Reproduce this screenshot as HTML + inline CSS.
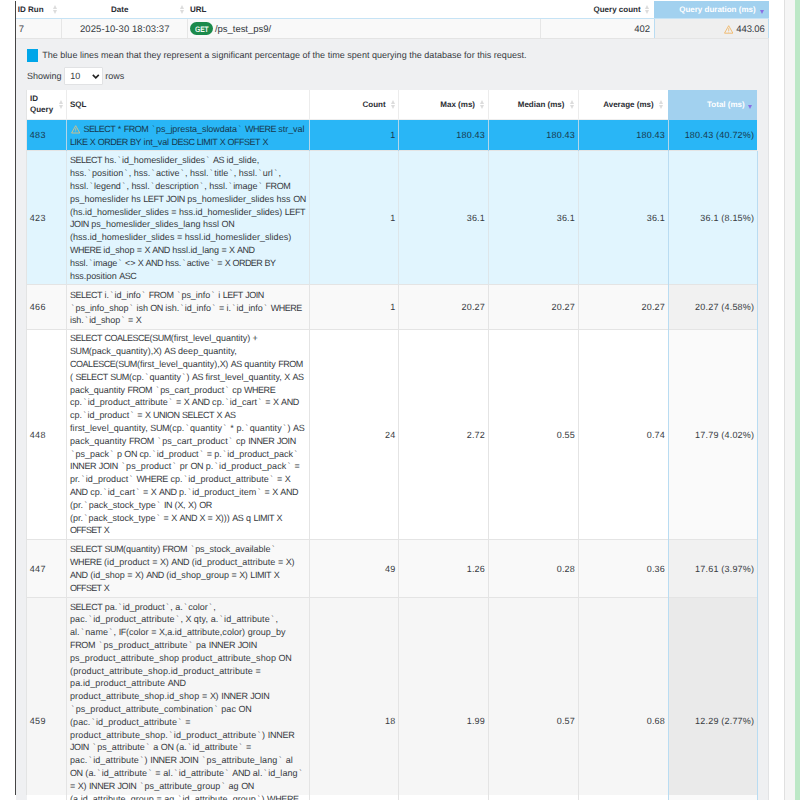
<!DOCTYPE html>
<html><head><meta charset="utf-8"><style>
*{margin:0;padding:0;box-sizing:border-box}
html,body{width:800px;height:800px;overflow:hidden;background:#fff}
body{position:relative;font-family:"Liberation Sans",sans-serif;font-size:9px;color:#363a41;text-rendering:geometricPrecision}
.a{position:absolute}
.t{position:absolute;white-space:pre;line-height:12.8px;font-size:9px}
.h{position:absolute;white-space:pre;font-weight:bold;font-size:8px;line-height:11px;color:#2a2d33}
.sort{position:absolute;width:5px;height:10px}
.sort:before,.sort:after{content:"";position:absolute;left:0;border-left:2.5px solid transparent;border-right:2.5px solid transparent}
.sort:before{top:0;border-bottom:4.2px solid #dcdcdc}
.sort:after{top:5.5px;border-top:4.2px solid #dcdcdc}
.desc{position:absolute;width:0;height:0;border-left:2.5px solid transparent;border-right:2.5px solid transparent;border-top:4.1px solid #8a6fe4}
.vb{position:absolute;width:1px;background:#e6e6e6}
i{font-style:normal}
.bt{padding:0 1.3px}
.u{letter-spacing:calc(var(--ls) - 0.45px)}
</style></head>
<body>
<div class="a" style="left:784px;top:0px;width:1px;height:800px;background:#e0e0e0;"></div>
<div class="a" style="left:785px;top:0px;width:10px;height:800px;background:#f5f5f5;"></div>
<div class="a" style="left:795px;top:0px;width:5px;height:800px;background:#bde8c7;"></div>
<div class="a" style="left:16px;top:18px;width:753px;height:1px;background:#c6e3f5;"></div>
<div class="a" style="left:654px;top:1px;width:115px;height:17px;background:#a2d1ef;"></div>
<div class="a" style="left:16px;top:19px;width:753px;height:19px;background:#f9f9f9;"></div>
<div class="a" style="left:654px;top:19px;width:115px;height:19px;background:#efefef;"></div>
<div class="a" style="left:654px;top:19px;width:1px;height:19px;background:#b9dcf2;"></div>
<div class="a" style="left:768px;top:19px;width:1px;height:19px;background:#b9dcf2;"></div>
<div class="a" style="left:61px;top:19px;width:1px;height:19px;background:#e6e6e6;"></div>
<div class="a" style="left:187px;top:19px;width:1px;height:19px;background:#e6e6e6;"></div>
<div class="a" style="left:540px;top:19px;width:1px;height:19px;background:#e6e6e6;"></div>
<div class="a" style="left:16px;top:38px;width:753px;height:1px;background:#e4e4e4;"></div>
<div class="a" style="left:16px;top:39px;width:752px;height:761px;background:#eff0f2;"></div>
<div class="a" style="left:768px;top:39px;width:1px;height:761px;background:#e2e3e5;"></div>
<div class="h" style="left:17.75px;top:3.8000000000000007px;">ID Run</div>
<div class="sort" style="left:53.2px;top:4.8px"></div>
<div class="h" style="left:111px;top:3.8000000000000007px;">Date</div>
<div class="sort" style="left:179.8px;top:4.8px"></div>
<div class="h" style="left:190px;top:3.8000000000000007px;">URL</div>
<div class="h" style="right:159.39999999999998px;top:3.8000000000000007px;">Query count</div>
<div class="sort" style="left:645.4px;top:4.8px"></div>
<div class="h" style="right:44.39999999999998px;top:3.8000000000000007px;color:#fff;">Query duration (ms)</div>
<div class="desc" style="left:759.7px;top:10.3px"></div>
<div class="a" style="left:190.3px;top:22.2px;width:22.6px;height:12.9px;border-radius:6.45px;background:#1b8a4b;"></div>
<div class="t" style="left:194.5px;top:23.50px;color:#f4fbf6;font-size:8px;font-weight:bold;letter-spacing:-0.1px;transform:scaleX(0.84);transform-origin:0 0">GET</div>
<svg class="a" style="left:723.75px;top:25px" width="9.4" height="8.8" viewBox="0 0 9.4 8.8"><path d="M4.7 0.7 L8.9 8.2 L0.5 8.2 Z" fill="none" stroke="#f1b561" stroke-width="0.85" stroke-linejoin="round"/><path d="M4.7 3.2 V6" stroke="#f1b561" stroke-width="0.8"/><circle cx="4.7" cy="7" r="0.45" fill="#f1b561"/></svg>
<div class="a" style="left:27px;top:49.3px;width:11px;height:12.4px;background:#00a6e9;"></div>
<div class="a" style="left:64.3px;top:67.3px;width:38.4px;height:18px;background:#fff;border:1px solid #e1e2e4;border-radius:1px"></div>
<svg class="a" style="left:92.2px;top:73.8px" width="7.6" height="5.2" viewBox="0 0 7.6 5.2"><path d="M0.8 0.9 L3.8 3.9 L6.8 0.9" fill="none" stroke="#222" stroke-width="1.6"/></svg>
<div class="a" style="left:27px;top:90px;width:730px;height:29px;background:#fff;"></div>
<div class="a" style="left:27px;top:119px;width:641px;height:1px;background:#eeeeee;"></div>
<div class="a" style="left:668px;top:90px;width:89px;height:30px;background:#a2d1ef;"></div>
<div class="a" style="left:66px;top:90px;width:1px;height:29px;background:#ececec;"></div>
<div class="a" style="left:309px;top:90px;width:1px;height:29px;background:#ececec;"></div>
<div class="a" style="left:398px;top:90px;width:1px;height:29px;background:#ececec;"></div>
<div class="a" style="left:488px;top:90px;width:1px;height:29px;background:#ececec;"></div>
<div class="a" style="left:578px;top:90px;width:1px;height:29px;background:#ececec;"></div>
<div class="h" style="left:30px;top:93.1px;">ID</div>
<div class="h" style="left:30px;top:104.1px;">Query</div>
<div class="sort" style="left:58.8px;top:99.6px"></div>
<div class="h" style="left:70px;top:98.89999999999999px;">SQL</div>
<div class="h" style="right:414.4px;top:98.89999999999999px;">Count</div>
<div class="sort" style="left:390.6px;top:99.6px"></div>
<div class="h" style="right:325px;top:98.89999999999999px;">Max (ms)</div>
<div class="sort" style="left:480.20000000000005px;top:99.6px"></div>
<div class="h" style="right:235.60000000000002px;top:98.89999999999999px;">Median (ms)</div>
<div class="sort" style="left:569.6px;top:99.6px"></div>
<div class="h" style="right:146.39999999999998px;top:98.89999999999999px;">Average (ms)</div>
<div class="sort" style="left:658.6px;top:99.6px"></div>
<div class="h" style="right:55.299999999999955px;top:98.89999999999999px;color:#fff;">Total (ms)</div>
<div class="desc" style="left:748.4px;top:104.8px"></div>
<div class="a" style="left:27px;top:120px;width:730px;height:31px;background:#29b6f6;"></div>
<div class="a" style="left:668px;top:120px;width:89px;height:31px;background:#29b6f6;"></div>
<div class="a" style="left:27px;top:150px;width:730px;height:1px;background:#e4e4e4;"></div>
<div class="a" style="left:66px;top:120px;width:1px;height:31px;background:#b2d6ea;"></div>
<div class="a" style="left:309px;top:120px;width:1px;height:31px;background:#b2d6ea;"></div>
<div class="a" style="left:398px;top:120px;width:1px;height:31px;background:#b2d6ea;"></div>
<div class="a" style="left:488px;top:120px;width:1px;height:31px;background:#b2d6ea;"></div>
<div class="a" style="left:578px;top:120px;width:1px;height:31px;background:#b2d6ea;"></div>
<div class="a" style="left:668px;top:120px;width:1px;height:31px;background:#b2d6ea;"></div>
<svg class="a" style="left:71px;top:125.3px" width="9.4" height="8.6" viewBox="0 0 9.4 8.8"><path d="M4.7 0.7 L8.9 8.2 L0.5 8.2 Z" fill="none" stroke="#e9c27a" stroke-width="0.85" stroke-linejoin="round"/><path d="M4.7 3.2 V6" stroke="#e9c27a" stroke-width="0.8"/><circle cx="4.7" cy="7" r="0.45" fill="#e9c27a"/></svg>
<div class="a" style="left:27px;top:151px;width:730px;height:134px;background:#e1f5fe;"></div>
<div class="a" style="left:668px;top:151px;width:89px;height:134px;background:#e1f5fe;"></div>
<div class="a" style="left:27px;top:284px;width:730px;height:1px;background:#e4e4e4;"></div>
<div class="a" style="left:66px;top:151px;width:1px;height:134px;background:#dde6ea;"></div>
<div class="a" style="left:309px;top:151px;width:1px;height:134px;background:#dde6ea;"></div>
<div class="a" style="left:398px;top:151px;width:1px;height:134px;background:#dde6ea;"></div>
<div class="a" style="left:488px;top:151px;width:1px;height:134px;background:#dde6ea;"></div>
<div class="a" style="left:578px;top:151px;width:1px;height:134px;background:#dde6ea;"></div>
<div class="a" style="left:668px;top:151px;width:1px;height:134px;background:#b9dcf2;"></div>
<div class="a" style="left:757px;top:151px;width:1px;height:134px;background:#b9dcf2;"></div>
<div class="a" style="left:27px;top:285px;width:730px;height:45px;background:#f9f9f9;"></div>
<div class="a" style="left:668px;top:285px;width:89px;height:45px;background:#f1f1f1;"></div>
<div class="a" style="left:27px;top:329px;width:730px;height:1px;background:#e4e4e4;"></div>
<div class="a" style="left:66px;top:285px;width:1px;height:45px;background:#e4e4e4;"></div>
<div class="a" style="left:309px;top:285px;width:1px;height:45px;background:#e4e4e4;"></div>
<div class="a" style="left:398px;top:285px;width:1px;height:45px;background:#e4e4e4;"></div>
<div class="a" style="left:488px;top:285px;width:1px;height:45px;background:#e4e4e4;"></div>
<div class="a" style="left:578px;top:285px;width:1px;height:45px;background:#e4e4e4;"></div>
<div class="a" style="left:668px;top:285px;width:1px;height:45px;background:#b9dcf2;"></div>
<div class="a" style="left:757px;top:285px;width:1px;height:45px;background:#b9dcf2;"></div>
<div class="a" style="left:27px;top:330px;width:730px;height:210px;background:#ffffff;"></div>
<div class="a" style="left:668px;top:330px;width:89px;height:210px;background:#fafafa;"></div>
<div class="a" style="left:27px;top:539px;width:730px;height:1px;background:#e4e4e4;"></div>
<div class="a" style="left:66px;top:330px;width:1px;height:210px;background:#e4e4e4;"></div>
<div class="a" style="left:309px;top:330px;width:1px;height:210px;background:#e4e4e4;"></div>
<div class="a" style="left:398px;top:330px;width:1px;height:210px;background:#e4e4e4;"></div>
<div class="a" style="left:488px;top:330px;width:1px;height:210px;background:#e4e4e4;"></div>
<div class="a" style="left:578px;top:330px;width:1px;height:210px;background:#e4e4e4;"></div>
<div class="a" style="left:668px;top:330px;width:1px;height:210px;background:#b9dcf2;"></div>
<div class="a" style="left:757px;top:330px;width:1px;height:210px;background:#b9dcf2;"></div>
<div class="a" style="left:27px;top:540px;width:730px;height:58px;background:#f9f9f9;"></div>
<div class="a" style="left:668px;top:540px;width:89px;height:58px;background:#f1f1f1;"></div>
<div class="a" style="left:27px;top:597px;width:730px;height:1px;background:#e4e4e4;"></div>
<div class="a" style="left:66px;top:540px;width:1px;height:58px;background:#e4e4e4;"></div>
<div class="a" style="left:309px;top:540px;width:1px;height:58px;background:#e4e4e4;"></div>
<div class="a" style="left:398px;top:540px;width:1px;height:58px;background:#e4e4e4;"></div>
<div class="a" style="left:488px;top:540px;width:1px;height:58px;background:#e4e4e4;"></div>
<div class="a" style="left:578px;top:540px;width:1px;height:58px;background:#e4e4e4;"></div>
<div class="a" style="left:668px;top:540px;width:1px;height:58px;background:#b9dcf2;"></div>
<div class="a" style="left:757px;top:540px;width:1px;height:58px;background:#b9dcf2;"></div>
<div class="a" style="left:27px;top:598px;width:730px;height:197px;background:#f6f6f6;"></div>
<div class="a" style="left:668px;top:598px;width:89px;height:197px;background:#eaeaea;"></div>
<div class="a" style="left:66px;top:598px;width:1px;height:197px;background:#e4e4e4;"></div>
<div class="a" style="left:309px;top:598px;width:1px;height:197px;background:#e4e4e4;"></div>
<div class="a" style="left:398px;top:598px;width:1px;height:197px;background:#e4e4e4;"></div>
<div class="a" style="left:488px;top:598px;width:1px;height:197px;background:#e4e4e4;"></div>
<div class="a" style="left:578px;top:598px;width:1px;height:197px;background:#e4e4e4;"></div>
<div class="a" style="left:668px;top:598px;width:1px;height:197px;background:#b9dcf2;"></div>
<div class="a" style="left:757px;top:598px;width:1px;height:197px;background:#b9dcf2;"></div>
<div class="a" style="left:27px;top:795px;width:730px;height:5px;background:#fff;"></div>
<div class="a" style="left:668px;top:795px;width:89px;height:5px;background:#fafafa;"></div>
<div class="a" style="left:66px;top:795px;width:1px;height:5px;background:#e4e4e4;"></div>
<div class="a" style="left:309px;top:795px;width:1px;height:5px;background:#e4e4e4;"></div>
<div class="a" style="left:398px;top:795px;width:1px;height:5px;background:#e4e4e4;"></div>
<div class="a" style="left:488px;top:795px;width:1px;height:5px;background:#e4e4e4;"></div>
<div class="a" style="left:578px;top:795px;width:1px;height:5px;background:#e4e4e4;"></div>
<div class="a" style="left:668px;top:795px;width:1px;height:5px;background:#b9dcf2;"></div>
<div class="a" style="left:757px;top:795px;width:1px;height:5px;background:#b9dcf2;"></div>
<div class="a" style="left:15px;top:1px;width:1px;height:794px;background:#454545;"></div>
<div class="a" style="left:26px;top:90px;width:1px;height:705px;background:#e3e4e4;"></div>
<div class="t" style="left:18.8px;top:23.60px;font-size:9.5px">7</div>
<div class="t" style="left:80px;top:23.60px;font-size:9.5px;letter-spacing:0.07px;">2025-10-30 18:03:37</div>
<div class="t" style="left:215px;top:23.60px;font-size:9.5px;letter-spacing:-0.04px;">/ps_test_ps9/</div>
<div class="t" style="right:150.20000000000005px;top:23.60px;font-size:9.5px;letter-spacing:-0.13px">402</div>
<div class="t" style="right:35.39999999999998px;top:23.60px;font-size:9.5px;letter-spacing:-0.13px;">443.06</div>
<div class="t" style="left:42.2px;top:49.40px;letter-spacing:0.025px">The blue lines mean that they represent a significant percentage of the time spent querying the database for this request.</div>
<div class="t" style="left:27px;top:69.60px;">Showing</div>
<div class="t" style="left:70.2px;top:69.60px;">10</div>
<div class="t" style="left:105.2px;top:69.60px;">rows</div>
<div class="t" style="left:29.8px;top:129.20px;color:#17384d;letter-spacing:0.3px">483</div>
<div class="t" style="right:404.5px;top:129.20px;color:#17384d;letter-spacing:0.2px">1</div>
<div class="t" style="right:315px;top:129.20px;color:#17384d;letter-spacing:0.2px">180.43</div>
<div class="t" style="right:225px;top:129.20px;color:#17384d;letter-spacing:0.2px">180.43</div>
<div class="t" style="right:135px;top:129.20px;color:#17384d;letter-spacing:0.2px">180.43</div>
<div class="t" style="right:45.799999999999955px;top:129.20px;color:#17384d;letter-spacing:0.2px">180.43 (40.72%)</div>
<div class="t" style="left:83.4px;top:123.40px;font-size:9.0px;color:#17384d;--ls:-0.062px;letter-spacing:-0.062px"><i class="u">SELECT</i> * <i class="u">FROM</i> <i class="bt">`</i>ps_jpresta_slowdata<i class="bt">`</i> <i class="u">WHERE</i> str_val</div>
<div class="t" style="left:70px;top:136.20px;font-size:9.0px;color:#17384d;--ls:-0.073px;letter-spacing:-0.073px"><i class="u">LIKE</i> <i class="u">X</i> <i class="u">ORDER</i> <i class="u">BY</i> int_val <i class="u">DESC</i> <i class="u">LIMIT</i> <i class="u">X</i> <i class="u">OFFSET</i> <i class="u">X</i></div>
<div class="t" style="left:29.8px;top:211.70px;color:#363a41;letter-spacing:0.3px">423</div>
<div class="t" style="right:404.5px;top:211.70px;color:#363a41;letter-spacing:0.2px">1</div>
<div class="t" style="right:315px;top:211.70px;color:#363a41;letter-spacing:0.2px">36.1</div>
<div class="t" style="right:225px;top:211.70px;color:#363a41;letter-spacing:0.2px">36.1</div>
<div class="t" style="right:135px;top:211.70px;color:#363a41;letter-spacing:0.2px">36.1</div>
<div class="t" style="right:45.799999999999955px;top:211.70px;color:#363a41;letter-spacing:0.2px">36.1 (8.15%)</div>
<div class="t" style="left:70px;top:154.30px;font-size:9.0px;color:#363a41;--ls:-0.046px;letter-spacing:-0.046px"><i class="u">SELECT</i> hs.<i class="bt">`</i>id_homeslider_slides<i class="bt">`</i> <i class="u">AS</i> id_slide,</div>
<div class="t" style="left:70px;top:167.10px;font-size:9.0px;color:#363a41;--ls:0.002px;letter-spacing:0.002px">hss.<i class="bt">`</i>position<i class="bt">`</i>, hss.<i class="bt">`</i>active<i class="bt">`</i>, hssl.<i class="bt">`</i>title<i class="bt">`</i>, hssl.<i class="bt">`</i>url<i class="bt">`</i>,</div>
<div class="t" style="left:70px;top:179.90px;font-size:9.0px;color:#363a41;--ls:-0.024px;letter-spacing:-0.024px">hssl.<i class="bt">`</i>legend<i class="bt">`</i>, hssl.<i class="bt">`</i>description<i class="bt">`</i>, hssl.<i class="bt">`</i>image<i class="bt">`</i> <i class="u">FROM</i></div>
<div class="t" style="left:70px;top:192.70px;font-size:9.0px;color:#363a41;--ls:0.012px;letter-spacing:0.012px">ps_homeslider hs <i class="u">LEFT</i> <i class="u">JOIN</i> ps_homeslider_slides hss <i class="u">ON</i></div>
<div class="t" style="left:70px;top:205.50px;font-size:9.0px;color:#363a41;--ls:-0.010px;letter-spacing:-0.010px">(hs.id_homeslider_slides = hss.id_homeslider_slides) <i class="u">LEFT</i></div>
<div class="t" style="left:70px;top:218.30px;font-size:9.0px;color:#363a41;--ls:0.022px;letter-spacing:0.022px"><i class="u">JOIN</i> ps_homeslider_slides_lang hssl <i class="u">ON</i></div>
<div class="t" style="left:70px;top:231.10px;font-size:9.0px;color:#363a41;--ls:0.035px;letter-spacing:0.035px">(hss.id_homeslider_slides = hssl.id_homeslider_slides)</div>
<div class="t" style="left:70px;top:243.90px;font-size:9.0px;color:#363a41;--ls:-0.069px;letter-spacing:-0.069px"><i class="u">WHERE</i> id_shop = <i class="u">X</i> <i class="u">AND</i> hssl.id_lang = <i class="u">X</i> <i class="u">AND</i></div>
<div class="t" style="left:70px;top:256.70px;font-size:9.0px;color:#363a41;--ls:-0.127px;letter-spacing:-0.127px">hssl.<i class="bt">`</i>image<i class="bt">`</i> &lt;&gt; <i class="u">X</i> <i class="u">AND</i> hss.<i class="bt">`</i>active<i class="bt">`</i> = <i class="u">X</i> <i class="u">ORDER</i> <i class="u">BY</i></div>
<div class="t" style="left:70px;top:269.50px;font-size:9.0px;color:#363a41;--ls:-0.066px;letter-spacing:-0.066px">hss.position <i class="u">ASC</i></div>
<div class="t" style="left:29.8px;top:301.20px;color:#363a41;letter-spacing:0.3px">466</div>
<div class="t" style="right:404.5px;top:301.20px;color:#363a41;letter-spacing:0.2px">1</div>
<div class="t" style="right:315px;top:301.20px;color:#363a41;letter-spacing:0.2px">20.27</div>
<div class="t" style="right:225px;top:301.20px;color:#363a41;letter-spacing:0.2px">20.27</div>
<div class="t" style="right:135px;top:301.20px;color:#363a41;letter-spacing:0.2px">20.27</div>
<div class="t" style="right:45.799999999999955px;top:301.20px;color:#363a41;letter-spacing:0.2px">20.27 (4.58%)</div>
<div class="t" style="left:70px;top:288.70px;font-size:9.0px;color:#363a41;--ls:-0.038px;letter-spacing:-0.038px"><i class="u">SELECT</i> i.<i class="bt">`</i>id_info<i class="bt">`</i> <i class="u">FROM</i> <i class="bt">`</i>ps_info<i class="bt">`</i> i <i class="u">LEFT</i> <i class="u">JOIN</i></div>
<div class="t" style="left:70px;top:301.50px;font-size:9.0px;color:#363a41;--ls:-0.047px;letter-spacing:-0.047px"><i class="bt">`</i>ps_info_shop<i class="bt">`</i> ish <i class="u">ON</i> ish.<i class="bt">`</i>id_info<i class="bt">`</i> = i.<i class="bt">`</i>id_info<i class="bt">`</i> <i class="u">WHERE</i></div>
<div class="t" style="left:70px;top:314.30px;font-size:9.0px;color:#363a41;--ls:-0.085px;letter-spacing:-0.085px">ish.<i class="bt">`</i>id_shop<i class="bt">`</i> = <i class="u">X</i></div>
<div class="t" style="left:29.8px;top:428.70px;color:#363a41;letter-spacing:0.3px">448</div>
<div class="t" style="right:404.5px;top:428.70px;color:#363a41;letter-spacing:0.2px">24</div>
<div class="t" style="right:315px;top:428.70px;color:#363a41;letter-spacing:0.2px">2.72</div>
<div class="t" style="right:225px;top:428.70px;color:#363a41;letter-spacing:0.2px">0.55</div>
<div class="t" style="right:135px;top:428.70px;color:#363a41;letter-spacing:0.2px">0.74</div>
<div class="t" style="right:45.799999999999955px;top:428.70px;color:#363a41;letter-spacing:0.2px">17.79 (4.02%)</div>
<div class="t" style="left:70px;top:332.45px;font-size:9.0px;color:#363a41;--ls:-0.057px;letter-spacing:-0.057px"><i class="u">SELECT</i> <i class="u">COALESCE</i>(<i class="u">SUM</i>(first_level_quantity) +</div>
<div class="t" style="left:70px;top:345.25px;font-size:9.0px;color:#363a41;--ls:0.027px;letter-spacing:0.027px"><i class="u">SUM</i>(pack_quantity),<i class="u">X</i>) <i class="u">AS</i> deep_quantity,</div>
<div class="t" style="left:70px;top:358.05px;font-size:9.0px;color:#363a41;--ls:-0.014px;letter-spacing:-0.014px"><i class="u">COALESCE</i>(<i class="u">SUM</i>(first_level_quantity),<i class="u">X</i>) <i class="u">AS</i> quantity <i class="u">FROM</i></div>
<div class="t" style="left:70px;top:370.85px;font-size:9.0px;color:#363a41;--ls:-0.007px;letter-spacing:-0.007px">( <i class="u">SELECT</i> <i class="u">SUM</i>(cp.<i class="bt">`</i>quantity<i class="bt">`</i>) <i class="u">AS</i> first_level_quantity, <i class="u">X</i> <i class="u">AS</i></div>
<div class="t" style="left:70px;top:383.65px;font-size:9.0px;color:#363a41;--ls:-0.036px;letter-spacing:-0.036px">pack_quantity <i class="u">FROM</i> <i class="bt">`</i>ps_cart_product<i class="bt">`</i> cp <i class="u">WHERE</i></div>
<div class="t" style="left:70px;top:396.45px;font-size:9.0px;color:#363a41;--ls:0.025px;letter-spacing:0.025px">cp.<i class="bt">`</i>id_product_attribute<i class="bt">`</i> = <i class="u">X</i> <i class="u">AND</i> cp.<i class="bt">`</i>id_cart<i class="bt">`</i> = <i class="u">X</i> <i class="u">AND</i></div>
<div class="t" style="left:70px;top:409.25px;font-size:9.0px;color:#363a41;--ls:-0.032px;letter-spacing:-0.032px">cp.<i class="bt">`</i>id_product<i class="bt">`</i> = <i class="u">X</i> <i class="u">UNION</i> <i class="u">SELECT</i> <i class="u">X</i> <i class="u">AS</i></div>
<div class="t" style="left:70px;top:422.05px;font-size:9.0px;color:#363a41;--ls:0.063px;letter-spacing:0.063px">first_level_quantity, <i class="u">SUM</i>(cp.<i class="bt">`</i>quantity<i class="bt">`</i> * p.<i class="bt">`</i>quantity<i class="bt">`</i>) <i class="u">AS</i></div>
<div class="t" style="left:70px;top:434.85px;font-size:9.0px;color:#363a41;--ls:0.067px;letter-spacing:0.067px">pack_quantity <i class="u">FROM</i> <i class="bt">`</i>ps_cart_product<i class="bt">`</i> cp <i class="u">INNER</i> <i class="u">JOIN</i></div>
<div class="t" style="left:70px;top:447.65px;font-size:9.0px;color:#363a41;--ls:-0.031px;letter-spacing:-0.031px"><i class="bt">`</i>ps_pack<i class="bt">`</i> p <i class="u">ON</i> cp.<i class="bt">`</i>id_product<i class="bt">`</i> = p.<i class="bt">`</i>id_product_pack<i class="bt">`</i></div>
<div class="t" style="left:70px;top:460.45px;font-size:9.0px;color:#363a41;--ls:0.079px;letter-spacing:0.079px"><i class="u">INNER</i> <i class="u">JOIN</i> <i class="bt">`</i>ps_product<i class="bt">`</i> pr <i class="u">ON</i> p.<i class="bt">`</i>id_product_pack<i class="bt">`</i> =</div>
<div class="t" style="left:70px;top:473.25px;font-size:9.0px;color:#363a41;--ls:0.046px;letter-spacing:0.046px">pr.<i class="bt">`</i>id_product<i class="bt">`</i> <i class="u">WHERE</i> cp.<i class="bt">`</i>id_product_attribute<i class="bt">`</i> = <i class="u">X</i></div>
<div class="t" style="left:70px;top:486.05px;font-size:9.0px;color:#363a41;--ls:0.007px;letter-spacing:0.007px"><i class="u">AND</i> cp.<i class="bt">`</i>id_cart<i class="bt">`</i> = <i class="u">X</i> <i class="u">AND</i> p.<i class="bt">`</i>id_product_item<i class="bt">`</i> = <i class="u">X</i> <i class="u">AND</i></div>
<div class="t" style="left:70px;top:498.85px;font-size:9.0px;color:#363a41;--ls:0.005px;letter-spacing:0.005px">(pr.<i class="bt">`</i>pack_stock_type<i class="bt">`</i> <i class="u">IN</i> (<i class="u">X</i>, <i class="u">X</i>) <i class="u">OR</i></div>
<div class="t" style="left:70px;top:511.65px;font-size:9.0px;color:#363a41;--ls:-0.008px;letter-spacing:-0.008px">(pr.<i class="bt">`</i>pack_stock_type<i class="bt">`</i> = <i class="u">X</i> <i class="u">AND</i> <i class="u">X</i> = <i class="u">X</i>))) <i class="u">AS</i> q <i class="u">LIMIT</i> <i class="u">X</i></div>
<div class="t" style="left:70px;top:524.45px;font-size:9.0px;color:#363a41;--ls:-0.242px;letter-spacing:-0.242px"><i class="u">OFFSET</i> <i class="u">X</i></div>
<div class="t" style="left:29.8px;top:562.70px;color:#363a41;letter-spacing:0.3px">447</div>
<div class="t" style="right:404.5px;top:562.70px;color:#363a41;letter-spacing:0.2px">49</div>
<div class="t" style="right:315px;top:562.70px;color:#363a41;letter-spacing:0.2px">1.26</div>
<div class="t" style="right:225px;top:562.70px;color:#363a41;letter-spacing:0.2px">0.28</div>
<div class="t" style="right:135px;top:562.70px;color:#363a41;letter-spacing:0.2px">0.36</div>
<div class="t" style="right:45.799999999999955px;top:562.70px;color:#363a41;letter-spacing:0.2px">17.61 (3.97%)</div>
<div class="t" style="left:70px;top:543.20px;font-size:9.0px;color:#363a41;--ls:-0.044px;letter-spacing:-0.044px"><i class="u">SELECT</i> <i class="u">SUM</i>(quantity) <i class="u">FROM</i> <i class="bt">`</i>ps_stock_available<i class="bt">`</i></div>
<div class="t" style="left:70px;top:556.00px;font-size:9.0px;color:#363a41;--ls:0.053px;letter-spacing:0.053px"><i class="u">WHERE</i> (id_product = <i class="u">X</i>) <i class="u">AND</i> (id_product_attribute = <i class="u">X</i>)</div>
<div class="t" style="left:70px;top:568.80px;font-size:9.0px;color:#363a41;--ls:0.007px;letter-spacing:0.007px"><i class="u">AND</i> (id_shop = <i class="u">X</i>) <i class="u">AND</i> (id_shop_group = <i class="u">X</i>) <i class="u">LIMIT</i> <i class="u">X</i></div>
<div class="t" style="left:70px;top:581.60px;font-size:9.0px;color:#363a41;--ls:-0.242px;letter-spacing:-0.242px"><i class="u">OFFSET</i> <i class="u">X</i></div>
<div class="t" style="left:29.8px;top:715.40px;color:#363a41;letter-spacing:0.3px">459</div>
<div class="t" style="right:404.5px;top:715.40px;color:#363a41;letter-spacing:0.2px">18</div>
<div class="t" style="right:315px;top:715.40px;color:#363a41;letter-spacing:0.2px">1.99</div>
<div class="t" style="right:225px;top:715.40px;color:#363a41;letter-spacing:0.2px">0.57</div>
<div class="t" style="right:135px;top:715.40px;color:#363a41;letter-spacing:0.2px">0.68</div>
<div class="t" style="right:45.799999999999955px;top:715.40px;color:#363a41;letter-spacing:0.2px">12.29 (2.77%)</div>
<div class="t" style="left:70px;top:600.60px;font-size:9.0px;color:#363a41;--ls:-0.015px;letter-spacing:-0.015px"><i class="u">SELECT</i> pa.<i class="bt">`</i>id_product<i class="bt">`</i>, a.<i class="bt">`</i>color<i class="bt">`</i>,</div>
<div class="t" style="left:70px;top:613.40px;font-size:9.0px;color:#363a41;--ls:0.099px;letter-spacing:0.099px">pac.<i class="bt">`</i>id_product_attribute<i class="bt">`</i>, <i class="u">X</i> qty, a.<i class="bt">`</i>id_attribute<i class="bt">`</i>,</div>
<div class="t" style="left:70px;top:626.20px;font-size:9.0px;color:#363a41;--ls:0.042px;letter-spacing:0.042px">al.<i class="bt">`</i>name<i class="bt">`</i>, <i class="u">IF</i>(color = <i class="u">X</i>,a.id_attribute,color) group_by</div>
<div class="t" style="left:70px;top:639.00px;font-size:9.0px;color:#363a41;--ls:0.106px;letter-spacing:0.106px"><i class="u">FROM</i> <i class="bt">`</i>ps_product_attribute<i class="bt">`</i> pa <i class="u">INNER</i> <i class="u">JOIN</i></div>
<div class="t" style="left:70px;top:651.80px;font-size:9.0px;color:#363a41;--ls:0.101px;letter-spacing:0.101px">ps_product_attribute_shop product_attribute_shop <i class="u">ON</i></div>
<div class="t" style="left:70px;top:664.60px;font-size:9.0px;color:#363a41;--ls:0.132px;letter-spacing:0.132px">(product_attribute_shop.id_product_attribute =</div>
<div class="t" style="left:70px;top:677.40px;font-size:9.0px;color:#363a41;--ls:0.129px;letter-spacing:0.129px">pa.id_product_attribute <i class="u">AND</i></div>
<div class="t" style="left:70px;top:690.20px;font-size:9.0px;color:#363a41;--ls:0.107px;letter-spacing:0.107px">product_attribute_shop.id_shop = <i class="u">X</i>) <i class="u">INNER</i> <i class="u">JOIN</i></div>
<div class="t" style="left:70px;top:703.00px;font-size:9.0px;color:#363a41;--ls:0.057px;letter-spacing:0.057px"><i class="bt">`</i>ps_product_attribute_combination<i class="bt">`</i> pac <i class="u">ON</i></div>
<div class="t" style="left:70px;top:715.80px;font-size:9.0px;color:#363a41;--ls:0.070px;letter-spacing:0.070px">(pac.<i class="bt">`</i>id_product_attribute<i class="bt">`</i> =</div>
<div class="t" style="left:70px;top:728.60px;font-size:9.0px;color:#363a41;--ls:0.149px;letter-spacing:0.149px">product_attribute_shop.<i class="bt">`</i>id_product_attribute<i class="bt">`</i>) <i class="u">INNER</i></div>
<div class="t" style="left:70px;top:741.40px;font-size:9.0px;color:#363a41;--ls:0.061px;letter-spacing:0.061px"><i class="u">JOIN</i> <i class="bt">`</i>ps_attribute<i class="bt">`</i> a <i class="u">ON</i> (a.<i class="bt">`</i>id_attribute<i class="bt">`</i> =</div>
<div class="t" style="left:70px;top:754.20px;font-size:9.0px;color:#363a41;--ls:0.102px;letter-spacing:0.102px">pac.<i class="bt">`</i>id_attribute<i class="bt">`</i>) <i class="u">INNER</i> <i class="u">JOIN</i> <i class="bt">`</i>ps_attribute_lang<i class="bt">`</i> al</div>
<div class="t" style="left:70px;top:767.00px;font-size:9.0px;color:#363a41;--ls:0.071px;letter-spacing:0.071px"><i class="u">ON</i> (a.<i class="bt">`</i>id_attribute<i class="bt">`</i> = al.<i class="bt">`</i>id_attribute<i class="bt">`</i> <i class="u">AND</i> al.<i class="bt">`</i>id_lang<i class="bt">`</i></div>
<div class="t" style="left:70px;top:779.80px;font-size:9.0px;color:#363a41;--ls:0.039px;letter-spacing:0.039px">= <i class="u">X</i>) <i class="u">INNER</i> <i class="u">JOIN</i> <i class="bt">`</i>ps_attribute_group<i class="bt">`</i> ag <i class="u">ON</i></div>
<div class="t" style="left:70px;top:792.60px;font-size:9.0px;color:#363a41;--ls:0.041px;letter-spacing:0.041px">(a.id_attribute_group = ag.<i class="bt">`</i>id_attribute_group<i class="bt">`</i>) <i class="u">WHERE</i></div>
<div class="t" style="left:70px;top:805.40px;font-size:9.0px;color:#363a41;--ls:0.095px;letter-spacing:0.095px"><i class="u">AND</i> a.<i class="bt">`</i>id_attribute_group<i class="bt">`</i> = <i class="u">X</i></div>
</body></html>
